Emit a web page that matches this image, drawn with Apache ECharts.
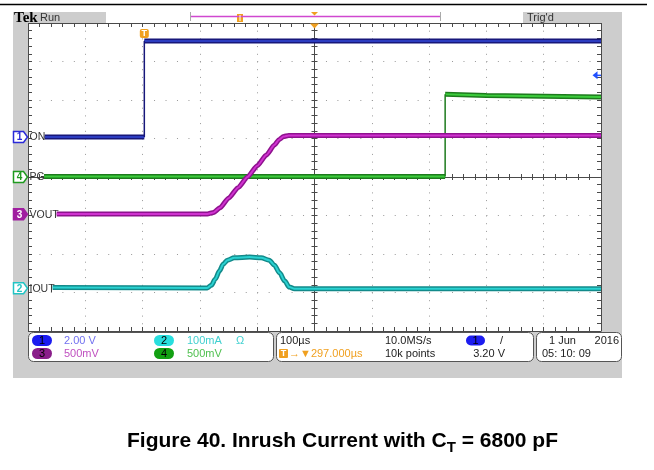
<!DOCTYPE html>
<html><head><meta charset="utf-8">
<script src="https://cdn.jsdelivr.net/npm/echarts@6/dist/echarts.min.js"></script>
<style>html,body{margin:0;padding:0;background:#fff}#c{width:654px;height:470px}</style>
</head><body><div id="c"></div>
<script>
// Time in µs relative to the screen centre (100 µs/div), levels in screen divisions
const onTime   = [-471, -297, -297, 500];
const onLevel  = [1.04, 1.04, 3.53, 3.53];
const pgTime   = [-472, 228, 228, 300, 400, 500];
const pgLevel  = [0.01, 0.01, 2.15, 2.12, 2.10, 2.08];
const voutTime  = [-450, -187, -176, -165, -150, -133, -117, -100, -84, -70, -62, -54, -45, 500];
const voutLevel = [-0.96, -0.96, -0.92, -0.80, -0.55, -0.27, 0.00, 0.29, 0.57, 0.83, 0.97, 1.05, 1.08, 1.08];
const ioutTime  = [-457, -187, -180, -173, -166, -159, -152, -140, -113, -93, -79, -70, -61, -52, -44, -35, 500];
const ioutLevel = [-2.87, -2.88, -2.81, -2.65, -2.44, -2.26, -2.16, -2.10, -2.08, -2.10, -2.16, -2.29, -2.49, -2.70, -2.86, -2.90, -2.90];

const channelNumbers = ['1', '4', '3', '2'];
const channelNames   = ['ON', 'PG', 'VOUT', 'IOUT'];
const channelGround  = [1.04, 0.0, -0.97, -2.89];
const channelColors  = ['#2a2ad8', '#1f9a1f', '#a01ea0', '#22c4c4'];
const channelFilled  = [false, false, true, false];

const triggerTime = -297;       // µs
const triggerVolts = 3.20;      // V
const ch1VoltsPerDiv = 2.0;     // V/div

const scaleTexts = {
  ch1: '2.00 V', ch3: '500mV', ch2: '100mA', ch4: '500mV',
  timebase: '100\u00b5s', delay: '\u2192\u25bc297.000\u00b5s',
  rate: '10.0MS/s', points: '10k points', trigLevel: '3.20 V',
  date: '1 Jun', year: '2016', time: '05: 10: 09'
};

const chart = echarts.init(document.getElementById('c'), null, {renderer: 'canvas'});

function bandData(t, v) {
  const d = [];
  for (let i = 0; i < t.length; i++) {
    if (i > 0 && t[i] === t[i - 1]) d.push([t[i], '-']);
    d.push([t[i], v[i]]);
  }
  return d;
}
function edgeData(t, v) {
  const d = [];
  for (let i = 1; i < t.length; i++) {
    if (t[i] === t[i - 1]) { d.push([t[i - 1], v[i - 1]]); d.push([t[i], v[i]]); d.push([t[i], '-']); }
  }
  return d;
}
function trace(name, t, v, dark, bright, smooth) {
  const base = {type: 'line', symbol: 'none', showSymbol: false, silent: true, animation: false, connectNulls: false,
    xAxisIndex: 0, yAxisIndex: 0, smooth: smooth || false, smoothMonotone: 'x'};
  return [
    Object.assign({}, base, {name: name, data: bandData(t, v), lineStyle: {width: 5, color: dark}}),
    Object.assign({}, base, {name: name + '_c', data: bandData(t, v), lineStyle: {width: 2, color: bright}}),
    Object.assign({}, base, {name: name + '_e', data: edgeData(t, v), smooth: false, lineStyle: {width: 1.5, color: dark}})
  ];
}

const AX = '#4a4a4a';
function xAx(pos, onZero, inside, split, len) {
  return {type: 'value', min: -500, max: 500, interval: 100, position: pos,
    axisLine: {show: true, onZero: onZero, onZeroAxisIndex: 0, lineStyle: {color: AX, width: 1}},
    axisTick: {show: true, inside: inside, length: len, lineStyle: {color: AX}},
    minorTick: {show: true, splitNumber: 5, length: len, lineStyle: {color: AX}},
    axisLabel: {show: false},
    splitLine: {show: split, lineStyle: {color: '#999', width: 1, type: [1, 6.7]}}};
}
function yAx(pos, onZero, inside, split, len) {
  return {type: 'value', min: -4, max: 4, interval: 1, position: pos,
    axisLine: {show: true, onZero: onZero, onZeroAxisIndex: 0, lineStyle: {color: AX, width: 1}},
    axisTick: {show: true, inside: inside, length: len, lineStyle: {color: AX}},
    minorTick: {show: true, splitNumber: 5, length: len, lineStyle: {color: AX}},
    axisLabel: {show: false},
    splitLine: {show: split, lineStyle: {color: '#999', width: 1, type: [1, 10.46]}}};
}

const FONT = '"Liberation Sans", Arial, sans-serif';

chart.setOption({
  animation: false,
  title: {
    text: '{a|Figure 40. Inrush Current with C}{s|T}{a| = 6800 pF}',
    left: 127, top: 428, padding: 0,
    textStyle: {rich: {
      a: {fontSize: 21, fontWeight: 'bold', fontFamily: FONT, color: '#000'},
      s: {fontSize: 15, fontWeight: 'bold', fontFamily: FONT, color: '#000', padding: [12, 0, 0, 0]}
    }}
  },
  grid: {left: 28, top: 23, width: 573, height: 308, show: true, backgroundColor: '#fff', borderWidth: 0},
  xAxis: [
    xAx('bottom', false, true, true, 4),
    xAx('top', false, true, false, 4),
    xAx('bottom', true, true, false, 3),
    xAx('bottom', true, false, false, 3)
  ],
  yAxis: [
    yAx('left', false, true, true, 4),
    yAx('right', false, true, false, 4),
    yAx('left', true, true, false, 3),
    yAx('left', true, false, false, 3)
  ],
  series: [].concat(
    trace('ON', onTime, onLevel, '#17177a', '#2c3cc0'),
    trace('PG', pgTime, pgLevel, '#1d7a1d', '#3ccc3c'),
    trace('VOUT', voutTime, voutLevel, '#8e128e', '#d032d0', 0.2),
    trace('IOUT', ioutTime, ioutLevel, '#128a8a', '#2ad2d2', 0.3)
  )
});

// ---------- decorations (screen furniture), placed through the axes ----------
const px = (t) => chart.convertToPixel({xAxisIndex: 0}, t);
const py = (v) => chart.convertToPixel({yAxisIndex: 0}, v);
const G = [];
const GRAY = '#cdcdcd';
function rect(x, y, w, h, fill, extra) { G.push(Object.assign({type: 'rect', z: 100, silent: true, shape: {x, y, width: w, height: h, r: 0}, style: {fill: fill}}, extra || {})); }
function text(x, y, s, color, size, opt) {
  opt = opt || {};
  G.push({type: 'text', z: 102, silent: true, x: x, y: y,
    style: {text: s, fill: color, font: (opt.weight || 'normal') + ' ' + size + 'px ' + (opt.family || FONT),
      textAlign: opt.align || 'left', textVerticalAlign: 'middle'}});
}
function poly(points, fill, stroke, lw) { G.push({type: 'polygon', z: 101, silent: true, shape: {points: points}, style: {fill: fill, stroke: stroke || null, lineWidth: lw || 0}}); }
function line(x1, y1, x2, y2, color, w) { G.push({type: 'line', z: 101, silent: true, shape: {x1, y1, x2, y2}, style: {stroke: color, lineWidth: w}}); }

// black rule at the very top
line(0, 4.5, 647, 4.5, '#000', 1.5);
// gray frame around the graticule
rect(13, 12, 93, 11, GRAY);
rect(106, 12, 417, 11, '#fff');
rect(523, 12, 99, 11, GRAY);
rect(13, 23, 15, 309, GRAY);
rect(602, 23, 20, 309, GRAY);
rect(13, 332, 609, 46, GRAY);
// top bar contents
text(14, 18, 'Tek', '#000', 15, {weight: 'bold', family: '"Liberation Serif", serif'});
text(40, 17.5, 'Run', '#333', 11);
text(527, 17.5, "Trig'd", '#333', 11);
line(190, 16.5, 441, 16.5, '#d048d0', 1.5);
line(190.5, 12, 190.5, 21, '#aaa', 1);
line(440.5, 12, 440.5, 21, '#aaa', 1);
rect(237, 14, 6, 8, '#f0a020');
line(240, 15, 240, 21, '#fff', 1);
const cx = px(0);
poly([[cx - 3.5, 12], [cx + 3.5, 12], [cx, 15.5]], '#f0a020');
// expansion point marker and trigger position marker on the graticule
poly([[cx - 4.5, 23.5], [cx + 4.5, 23.5], [cx, 28.5]], '#f0a020');
const tx = px(triggerTime);
rect(tx - 4.5, 29, 9, 9, '#f0a020', {shape: {x: tx - 4.5, y: 29, width: 9, height: 9, r: 2}});
text(tx, 33.5, 'T', '#fff', 9, {weight: 'bold', align: 'center'});
// trigger level arrow (ch1)
const ty = py(channelGround[0] + triggerVolts / ch1VoltsPerDiv);
poly([[592.5, ty], [597.5, ty - 4], [597.5, ty + 4]], '#2050ff');
line(597, ty, 601, ty, '#2050ff', 1.5);

// channel ground markers and labels
for (let i = 0; i < channelNumbers.length; i++) {
  const y = py(channelGround[i]);
  const c = channelColors[i];
  poly([[13.5, y - 5.5], [23.5, y - 5.5], [27.5, y], [23.5, y + 5.5], [13.5, y + 5.5]],
    channelFilled[i] ? c : '#fff', c, 1.5);
  text(19.5, y + 0.5, channelNumbers[i], channelFilled[i] ? '#fff' : c, 10, {weight: 'bold', align: 'center'});
  text(29.5, y + 0.5, channelNames[i], '#333', 10.5);
}

// readout boxes
function box(x, w) { G.push({type: 'rect', z: 100, silent: true, shape: {x: x, y: 332.5, width: w, height: 29, r: 5}, style: {fill: '#fff', stroke: '#555', lineWidth: 1}}); }
box(28.5, 245); box(276.5, 257); box(536.5, 85);
function badge(x, y, num, fill) {
  G.push({type: 'rect', z: 101, silent: true, shape: {x: x - 10, y: y - 5.5, width: 20, height: 11, r: 5.5}, style: {fill: fill}});
  text(x, y + 0.5, num, '#000', 11, {align: 'center'});
}
const R1 = 340.5, R2 = 353.5;
badge(42, R1, '1', '#1c1cf0'); text(64, R1, scaleTexts.ch1, '#7070f0', 11);
badge(42, R2, '3', '#8a1e8a'); text(64, R2, scaleTexts.ch3, '#c050c0', 11);
badge(164, R1, '2', '#28dede'); text(187, R1, scaleTexts.ch2, '#40d0d0', 11); text(236, R1, '\u03a9', '#40d0d0', 11);
badge(164, R2, '4', '#12a012'); text(187, R2, scaleTexts.ch4, '#50c050', 11);
text(280, R1, scaleTexts.timebase, '#222', 11);
G.push({type: 'rect', z: 101, silent: true, shape: {x: 279, y: R2 - 4.5, width: 9, height: 9, r: 1}, style: {fill: '#f0a020'}});
text(283.5, R2 + 0.5, 'T', '#fff', 9, {weight: 'bold', align: 'center'});
text(289, R2, scaleTexts.delay, '#f0a020', 11);
text(385, R1, scaleTexts.rate, '#222', 11);
text(385, R2, scaleTexts.points, '#222', 11);
G.push({type: 'rect', z: 101, silent: true, shape: {x: 466, y: R1 - 5, width: 19, height: 10, r: 5}, style: {fill: '#1c1cf0'}});
text(475.5, R1 + 0.5, '1', '#000', 11, {align: 'center'});
text(500, R1, '/', '#222', 11);
text(505, R2, scaleTexts.trigLevel, '#222', 11, {align: 'right'});
text(549, R1, scaleTexts.date, '#222', 11);
text(619, R1, scaleTexts.year, '#222', 11, {align: 'right'});
text(542, R2, scaleTexts.time, '#222', 11);

chart.setOption({graphic: {elements: G}});
</script></body></html>
